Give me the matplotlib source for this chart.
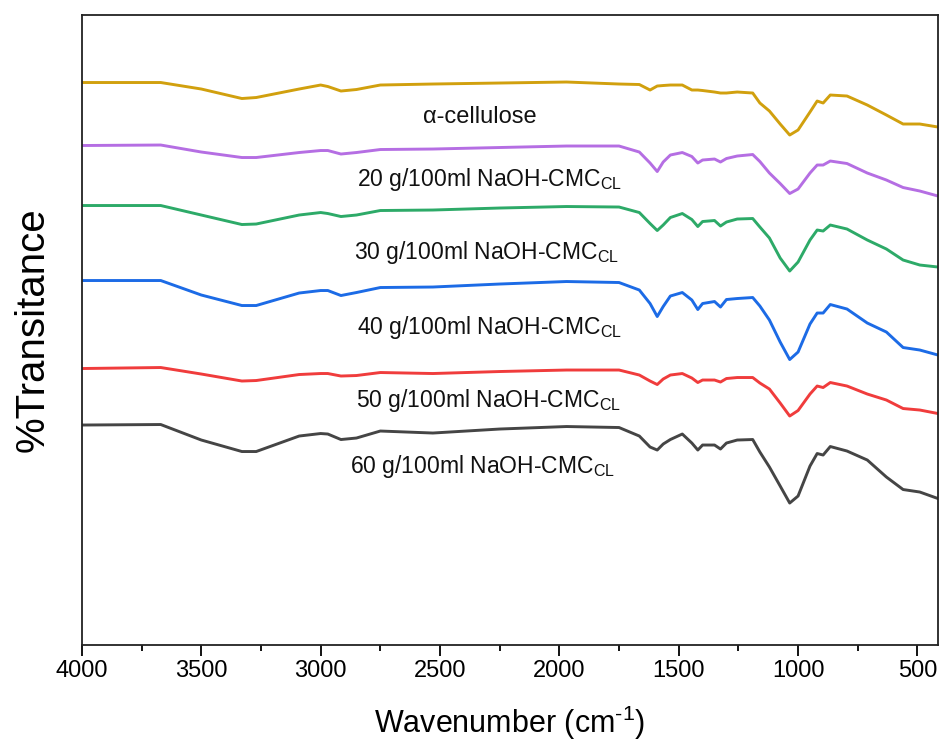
import numpy as np
import matplotlib
matplotlib.use("Agg")
import matplotlib.pyplot as plt

plt.rcParams['font.family'] = ['Liberation Sans', 'DejaVu Sans']
plt.rcParams['mathtext.fontset'] = 'custom'
plt.rcParams['mathtext.rm'] = 'Liberation Sans'
plt.rcParams['mathtext.it'] = 'Liberation Sans:italic'

# wavenumber grid (cm-1) shared by all traces
wavenumber = [4000, 3670, 3500, 3330, 3270, 3090, 3000, 2970, 2915, 2850,
              2750, 2530, 2250, 1970, 1750, 1665, 1620, 1590, 1565, 1535,
              1485, 1445, 1420, 1400, 1350, 1325, 1300, 1255, 1190, 1160,
              1120, 1075, 1035, 1000, 950, 920, 895, 865, 795, 710,
              630, 560, 490, 414]

# stacked transmittance traces (arbitrary units, offset for display)
alpha_cellulose = [562.5, 562.5, 556, 546.5, 547.5, 556, 560, 558.5, 554, 555.5,
                   560, 561, 562, 563, 561, 560.5, 555, 559, 559.5, 560,
                   560, 555, 555, 554.5, 553, 552, 552, 553, 552, 542,
                   534, 521, 510, 515, 533, 544, 542, 550, 549, 540,
                   530, 521, 521, 518]
naoh_20 = [499.5, 500, 493, 487.5, 487.5, 492.5, 494.5, 494.5, 491, 492.5,
           495.5, 496, 497.5, 499, 499, 493, 482, 473.5, 483, 490,
           492.5, 488.5, 482, 485, 486, 483, 486.5, 489, 490.5, 483.5,
           472, 461.5, 451.5, 456, 472, 480, 480, 484, 481.5, 472,
           465, 457.5, 454, 449]
naoh_30 = [439.5, 439.5, 430, 420.5, 421, 430, 432.5, 431.5, 428.5, 430,
           434.5, 435, 437, 438.5, 438, 432.5, 421.5, 414.5, 420, 427.5,
           431.5, 425.5, 418.5, 423.5, 424.5, 419, 423, 426, 426.5, 418,
           407, 387, 374, 383, 405, 415, 414, 420, 416, 405,
           396, 385, 380, 378]
naoh_40 = [364.5, 364.5, 350, 339.5, 339.5, 352, 354.5, 354.5, 349.5, 352.5,
           357.5, 358, 361, 363.5, 362.5, 355, 341.5, 328.5, 338.5, 349,
           352.5, 345, 335.5, 341.5, 343.5, 338, 345.5, 346.5, 347.5, 339,
           325, 303, 285.5, 293, 321, 332, 332, 340.5, 336, 322,
           313, 297.5, 295, 290]
naoh_50 = [276.5, 277.5, 271, 264, 264.5, 270.5, 271.5, 271.5, 269, 269.5,
           272.5, 271.5, 273.5, 275, 275, 270, 264, 260.5, 266, 270,
           271.5, 267, 262.5, 265, 265, 263, 266.5, 267.5, 267.5, 262,
           256, 242, 229, 234.5, 251, 259, 257.5, 262.5, 259, 251,
           245, 236.5, 235, 231.5]
naoh_60 = [220, 220.5, 205, 193.5, 193.5, 209, 211.5, 211, 205.5, 207,
           214, 212, 216, 218.5, 217.5, 209, 198, 195, 201, 205.5,
           211, 202, 195, 200, 200, 196, 202, 205, 205.5, 193,
           178, 159, 142, 149, 179, 191.5, 190, 198.5, 194, 185,
           168, 155.5, 153, 146.5]

series = [alpha_cellulose, naoh_20, naoh_30, naoh_40, naoh_50, naoh_60]
colors = ['#D1A00E', '#B56EE3', '#2DAA68', '#1C6BE6', '#F03C3C', '#454545']
labels = ['\u03b1-cellulose',
          '20 g/100ml NaOH-CMC$_{\\mathrm{CL}}$',
          '30 g/100ml NaOH-CMC$_{\\mathrm{CL}}$',
          '40 g/100ml NaOH-CMC$_{\\mathrm{CL}}$',
          '50 g/100ml NaOH-CMC$_{\\mathrm{CL}}$',
          '60 g/100ml NaOH-CMC$_{\\mathrm{CL}}$']
label_x = [2333, 2848, 2861, 2848, 2852, 2877]
label_y = [522, 459, 386, 311, 238, 172]
label_ha = ['center', 'left', 'left', 'left', 'left', 'left']
label_size = [17, 16.5, 16.5, 16.5, 16.5, 16.5]

fig = plt.figure(figsize=(9.42, 7.47), dpi=100)
ax = fig.add_axes([0.087, 0.1365, 0.9087, 0.8434])

for ys, col in zip(series, colors):
    ax.plot(wavenumber, ys, color=col, lw=2.1)

for txt, x, y, ha, fs in zip(labels, label_x, label_y, label_ha, label_size):
    ax.text(x, y, txt, fontsize=fs, ha=ha, va='baseline', color='#111111')

ax.set_xlim(4000, 414)
ax.set_ylim(0, 630)
ax.set_xticks([4000, 3500, 3000, 2500, 2000, 1500, 1000, 500])
ax.set_xticks(np.arange(3750, 400, -500), minor=True)
ax.set_yticks([])
ax.tick_params(axis='x', which='major', length=8, width=1.3, labelsize=17, pad=3, direction='out')
ax.tick_params(axis='x', which='minor', length=4.5, width=1.3, direction='out')
for s in ax.spines.values():
    s.set_linewidth(1.3)
    s.set_color('#222222')

ax.set_xlabel('Wavenumber (cm$^{\u2010 1}$)', fontsize=22)
ax.xaxis.set_label_coords(0.5, -0.093)
ax.set_ylabel('%Transitance', fontsize=29)
ax.yaxis.set_label_coords(-0.036, 0.5)

fig.savefig('out.png', dpi=100)
